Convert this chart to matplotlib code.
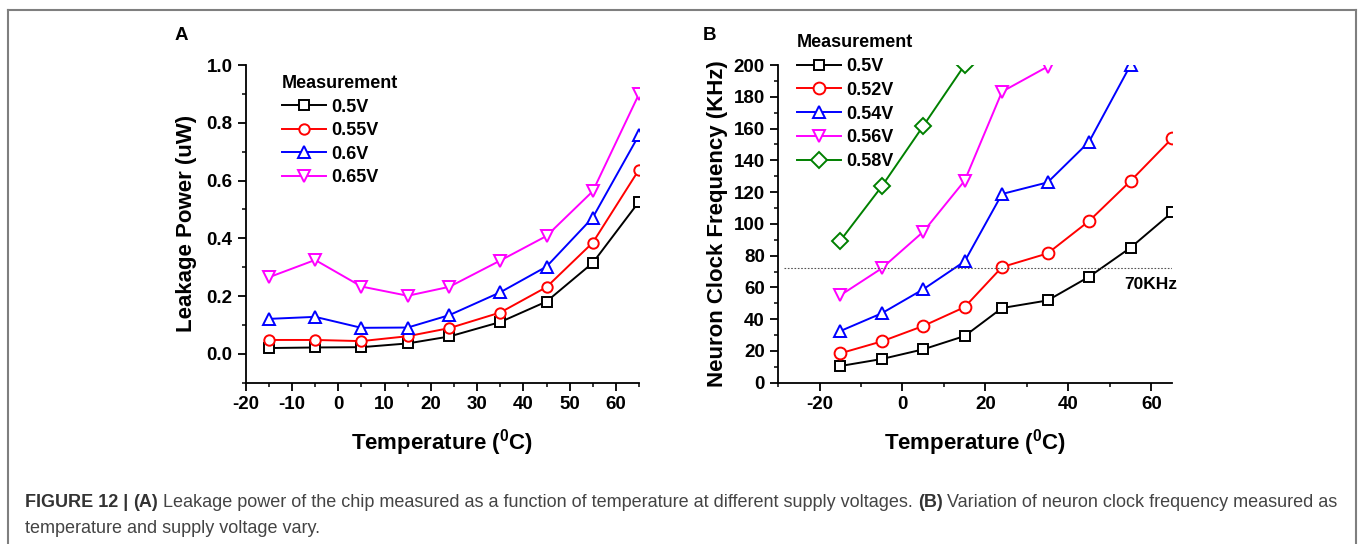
import numpy as np
import matplotlib
matplotlib.use('Agg')
import matplotlib.pyplot as plt
from matplotlib.ticker import MultipleLocator
from matplotlib.lines import Line2D

plt.rcParams['font.family'] = ['Liberation Sans', 'DejaVu Sans']
plt.rcParams['font.weight'] = 'bold'
plt.rcParams['axes.labelweight'] = 'bold'
plt.rcParams['axes.unicode_minus'] = False
plt.rcParams['mathtext.fontset'] = 'custom'
plt.rcParams['mathtext.rm'] = 'Liberation Sans:bold'
plt.rcParams['mathtext.bf'] = 'Liberation Sans:bold'

# panel A: leakage power (uW) vs temperature
temp_a = [-15, -5, 5, 15, 24, 35, 45, 55, 65]
leak_labels = ['0.5V', '0.55V', '0.6V', '0.65V']
leak_05 = [0.020, 0.022, 0.023, 0.036, 0.060, 0.110, 0.181, 0.315, 0.527]
leak_055 = [0.048, 0.048, 0.044, 0.061, 0.089, 0.143, 0.231, 0.385, 0.638]
leak_06 = [0.121, 0.128, 0.090, 0.091, 0.134, 0.213, 0.302, 0.472, 0.758]
leak_065 = [0.265, 0.325, 0.233, 0.201, 0.232, 0.323, 0.408, 0.563, 0.900]

# panel B: neuron clock frequency (KHz) vs temperature
freq_labels = ['0.5V', '0.52V', '0.54V', '0.56V', '0.58V']
temp_b_05 = [-15, -5, 5, 15, 24, 35, 45, 55, 65]
freq_05 = [10.5, 14.9, 21.0, 29.4, 47.0, 51.8, 66.7, 85.0, 107.2]
temp_b_052 = [-15, -5, 5, 15, 24, 35, 45, 55, 65]
freq_052 = [18.5, 26.0, 35.7, 47.6, 72.8, 81.4, 101.8, 127.0, 153.8]
temp_b_054 = [-15, -5, 5, 15, 24, 35, 45, 55]
freq_054 = [32.5, 43.7, 58.8, 76.4, 118.8, 126.1, 151.7, 200.0]
temp_b_056 = [-15, -5, 5, 15, 24, 35]
freq_056 = [55.0, 72.0, 95.0, 127.2, 183.2, 199.0]
temp_b_058 = [-15, -5, 5, 15]
freq_058 = [89.4, 123.6, 161.6, 200.0]
threshold = 72.5

fig = plt.figure(figsize=(13.6, 5.44), dpi=100)
ax_a = fig.add_axes([0.1807, 0.2965, 0.2892, 0.584])
ax_b = fig.add_axes([0.5721, 0.2965, 0.2897, 0.584])

colors = ['black', 'red', 'blue', 'magenta', 'green']

for ys, lab, c, m, ms in zip([leak_05, leak_055, leak_06, leak_065], leak_labels,
                             colors, ['s', 'o', '^', 'v'], [6.5, 7.5, 8, 8]):
    ax_a.plot(temp_a, ys, color=c, marker=m, ms=ms, mfc='white', mec=c,
              mew=1.4, lw=1.4, label=lab)

series_b = [(temp_b_05, freq_05), (temp_b_052, freq_052), (temp_b_054, freq_054),
            (temp_b_056, freq_056), (temp_b_058, freq_058)]
for (xs, ys), lab, c, m, ms in zip(series_b, freq_labels, colors,
                                   ['s', 'o', '^', 'v', 'D'], [7, 8.5, 9, 9, 8]):
    ax_b.plot(xs, ys, color=c, marker=m, ms=ms, mfc='white', mec=c,
              mew=1.4, lw=1.4, label=lab)

ax_b.hlines(threshold, -28.5, 65, color='#555555', lw=0.8, linestyles=(0, (1.5, 1.5)))
ax_b.text(66.2, 62, '70KHz', ha='right', va='center', fontsize=12.5, clip_on=False)

ax_a.set_xlim(-20, 65)
ax_a.set_ylim(-0.1, 1.0)
ax_a.xaxis.set_major_locator(MultipleLocator(10))
ax_a.xaxis.set_minor_locator(MultipleLocator(5))
ax_a.set_yticks([0.0, 0.2, 0.4, 0.6, 0.8, 1.0])
ax_a.yaxis.set_minor_locator(MultipleLocator(0.1))
ax_a.set_yticklabels(['0.0', '0.2', '0.4', '0.6', '0.8', '1.0'])
ax_a.set_ylabel('Leakage Power (uW)', fontsize=16, labelpad=7)

ax_b.set_xlim(-30, 65)
ax_b.set_ylim(0, 200)
ax_b.xaxis.set_major_locator(MultipleLocator(20))
ax_b.xaxis.set_minor_locator(MultipleLocator(10))
ax_b.yaxis.set_major_locator(MultipleLocator(20))
ax_b.yaxis.set_minor_locator(MultipleLocator(10))
ax_b.set_ylabel('Neuron Clock Frequency (KHz)', fontsize=16, labelpad=4)

for ax in (ax_a, ax_b):
    ax.spines['top'].set_visible(False)
    ax.spines['right'].set_visible(False)
    ax.spines['left'].set_linewidth(1.3)
    ax.spines['bottom'].set_linewidth(1.3)
    ax.tick_params(which='major', direction='out', length=5.5, width=1.3,
                   labelsize=13.5, pad=4)
    ax.tick_params(which='minor', direction='out', length=3, width=1.1)
    ax.set_xlabel(r'Temperature ($^{\mathbf{0}}$C)', fontsize=16, labelpad=10)

leg_kw = dict(bbox_transform=fig.transFigure, frameon=False, title='Measurement',
              fontsize=13, title_fontsize=13, handlelength=2.45, handletextpad=0.3,
              borderpad=0, borderaxespad=0, alignment='left', loc='upper left')
leg_a = ax_a.legend(bbox_to_anchor=(282 / 1360, 1 - 75 / 544), labelspacing=0.36, **leg_kw)
leg_a.get_title().set_fontweight('bold')
leg_b = ax_b.legend(bbox_to_anchor=(797 / 1360, 1 - 34 / 544), labelspacing=0.38, **leg_kw)
leg_b.get_title().set_fontweight('bold')

fig.text(181 / 1360, 1 - 35 / 544, 'A', fontsize=13.5, ha='center', va='center')
fig.text(709 / 1360, 1 - 35 / 544, 'B', fontsize=13.5, ha='center', va='center')

# frame around the figure
for xs, ys in [([8, 8], [544, 10]), ([8, 1356], [10, 10]), ([1356, 1356], [10, 544])]:
    fig.add_artist(Line2D([x / 1360 for x in xs], [1 - y / 544 for y in ys],
                          color='#7f7f7f', lw=1.5, transform=fig.transFigure))

# caption
renderer = fig.canvas.get_renderer()
pieces = [('FIGURE 12 | ', 'bold', '#333333'), ('(A)', 'bold', '#333333'),
          (' Leakage power of the chip measured as a function of temperature at different supply voltages. ', 'normal', '#444444'),
          ('(B)', 'bold', '#333333'),
          (' Variation of neuron clock frequency measured as', 'normal', '#444444')]
x = 25 / 1360
for txt, w, c in pieces:
    t = fig.text(x, 1 - 507 / 544, txt, fontsize=13, fontweight=w, color=c,
                 ha='left', va='baseline')
    bb = t.get_window_extent(renderer)
    x = bb.x1 / 1360
fig.text(25 / 1360, 1 - 533 / 544, 'temperature and supply voltage vary.', fontsize=13,
         fontweight='normal', color='#444444', ha='left', va='baseline')

fig.savefig('out.png', dpi=100)
